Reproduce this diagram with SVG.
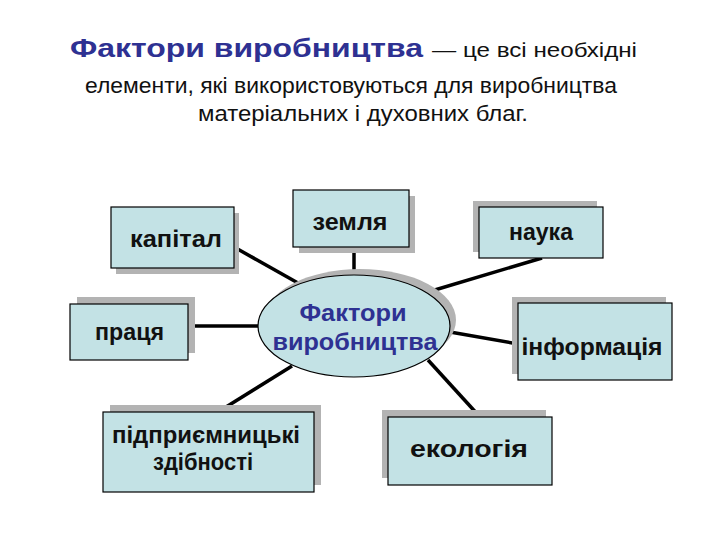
<svg xmlns="http://www.w3.org/2000/svg" width="720" height="540" viewBox="0 0 720 540">
<style>
.box{fill:#c3e2e5;stroke:#000;stroke-width:1.2}
.sh{fill:#b3b3b3}
.lbl{font-family:"Liberation Sans",Arial,sans-serif;font-weight:bold;font-size:24px;fill:#111;text-anchor:middle}
.ctr{fill:#2e3192}
.conn line{stroke:#000;stroke-width:3.5}
.ttl{font-family:"Liberation Sans",Arial,sans-serif}
</style>
<rect width="720" height="540" fill="#fff"/>
<g id="title" class="ttl">
<text x="70" y="57" font-weight="bold" font-size="26" fill="#2e3192" textLength="353" lengthAdjust="spacingAndGlyphs">Фактори виробництва</text>
<text x="432" y="57" font-size="21" fill="#111" textLength="205" lengthAdjust="spacingAndGlyphs">— це всі необхідні</text>
<text x="85" y="93" font-size="22" fill="#111" textLength="532" lengthAdjust="spacingAndGlyphs">елементи, які використовуються для виробництва</text>
<text x="198" y="121" font-size="22" fill="#111" textLength="330" lengthAdjust="spacingAndGlyphs">матеріальних і духовних благ.</text>
</g>
<g id="connectors" class="conn">
<line x1="234" y1="247" x2="298" y2="283"/>
<line x1="354" y1="247" x2="354" y2="276"/>
<line x1="542" y1="258" x2="428" y2="292"/>
<line x1="188" y1="326" x2="258" y2="326"/>
<line x1="450" y1="332" x2="518" y2="344"/>
<line x1="292" y1="366" x2="218" y2="412"/>
<line x1="428" y1="360" x2="480" y2="417"/>
</g>
<g id="kapital">
<rect class="sh" x="116" y="213" width="123" height="61"/>
<rect class="box" x="111" y="207" width="123" height="61"/>
<text class="lbl" x="176" y="247" textLength="92" lengthAdjust="spacingAndGlyphs">капітал</text>
</g>
<g id="zemlya">
<rect class="sh" x="299" y="196" width="116" height="57"/>
<rect class="box" x="293" y="190" width="116" height="57"/>
<text class="lbl" x="350" y="230" textLength="75" lengthAdjust="spacingAndGlyphs">земля</text>
</g>
<g id="nauka">
<rect class="sh" x="473" y="201" width="124" height="51"/>
<rect class="box" x="479" y="207" width="124" height="51"/>
<text class="lbl" x="541" y="240" textLength="64" lengthAdjust="spacingAndGlyphs">наука</text>
</g>
<g id="pratsya">
<rect class="sh" x="77" y="297" width="118" height="56"/>
<rect class="box" x="70" y="304" width="118" height="56"/>
<text class="lbl" x="129.5" y="340" textLength="69" lengthAdjust="spacingAndGlyphs">праця</text>
</g>
<g id="informatsiya">
<rect class="sh" x="512" y="297" width="154" height="77"/>
<rect class="box" x="518" y="303" width="154" height="77"/>
<text class="lbl" x="592" y="355" textLength="141" lengthAdjust="spacingAndGlyphs">інформація</text>
</g>
<g id="pidpryiemnytski">
<rect class="sh" x="110" y="405" width="211" height="80"/>
<rect class="box" x="103" y="412" width="211" height="80"/>
<text class="lbl" x="206" y="443" textLength="188" lengthAdjust="spacingAndGlyphs">підприємницькі</text>
<text class="lbl" x="203" y="470" textLength="100" lengthAdjust="spacingAndGlyphs">здібності</text>
</g>
<g id="ekolohiya">
<rect class="sh" x="382" y="410" width="164" height="68"/>
<rect class="box" x="388" y="417" width="164" height="68"/>
<text class="lbl" x="469" y="457" textLength="118" lengthAdjust="spacingAndGlyphs">екологія</text>
</g>
<g id="center">
<ellipse cx="360" cy="320" rx="96" ry="51" fill="#b3b3b3"/>
<ellipse cx="354" cy="326" rx="96" ry="51" fill="#c3e2e5" stroke="#000" stroke-width="1.2"/>
<text class="lbl ctr" x="353" y="321" textLength="107" lengthAdjust="spacingAndGlyphs">Фактори</text>
<text class="lbl ctr" x="355" y="350" textLength="165" lengthAdjust="spacingAndGlyphs">виробництва</text>
</g>
</svg>
